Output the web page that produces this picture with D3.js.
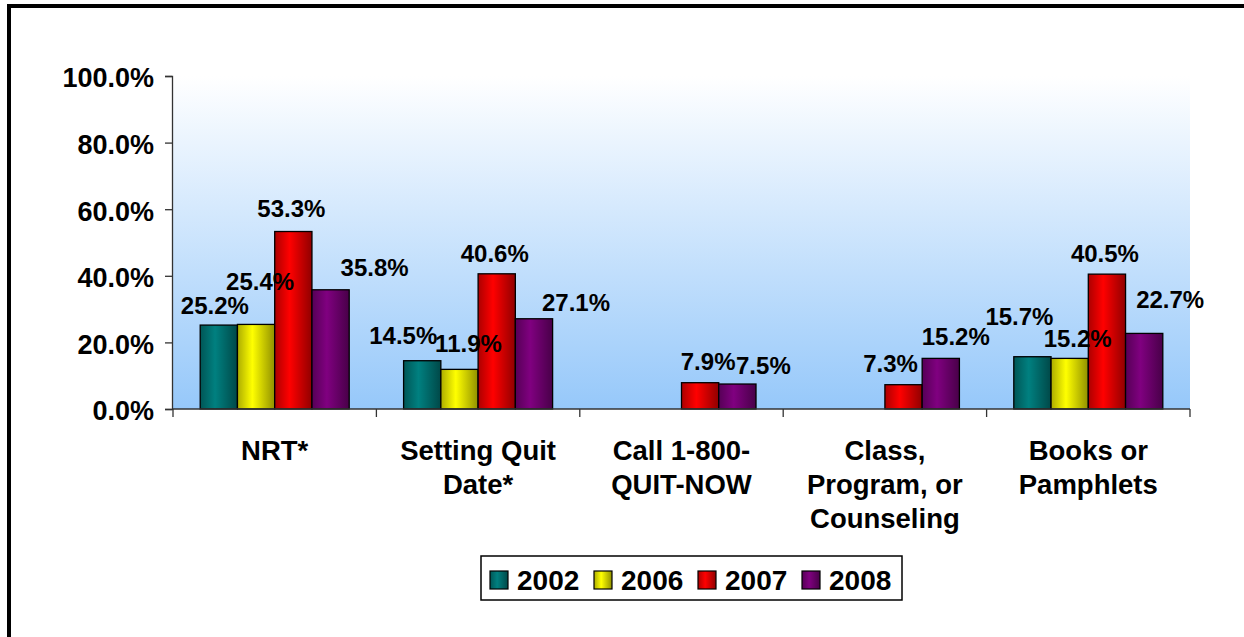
<!DOCTYPE html>
<html>
<head>
<meta charset="utf-8">
<script src="https://cdn.jsdelivr.net/npm/d3@7"></script>
<style>
  body { margin: 0; background: #fff; }
  text { font-family: "Liberation Sans", Arial, sans-serif; font-weight: bold; fill: #000; }
</style>
</head>
<body>
<div class="chart"></div>
<script>
// data
const categories = ['NRT*', 'Setting Quit Date*', 'Call 1-800- QUIT-NOW', 'Class, Program, or Counseling', 'Books or Pamphlets'];
const categoryLines = [['NRT*'], ['Setting Quit', 'Date*'], ['Call 1-800-', 'QUIT-NOW'], ['Class,', 'Program, or', 'Counseling'], ['Books or', 'Pamphlets']];
const years = ['2002', '2006', '2007', '2008'];
const v2002 = [25.2, 14.5, null, null, 15.7];
const v2006 = [25.4, 11.9, null, null, 15.2];
const v2007 = [53.3, 40.6, 7.9, 7.3, 40.5];
const v2008 = [35.8, 27.1, 7.5, 15.2, 22.7];
const yTicks = [0, 20, 40, 60, 80, 100];

// label nudges (dx, dy from top centre of bar), as placed in the original
const labelNudge = [
    [[-4, -20], [-19, -25], null, null, [-13, -40]],
    [[4, -43], [9, -26], null, null, [8, -20]],
    [[-2, -23], [-2, -20], [8, -21], [-13, -21], [-2, -21]],
    [[44, -22], [42, -16], [26, -19], [15, -22], [26, -34]]
];

const colors = ['#008080', '#FFFF00', '#FF0000', '#800080'];
const series = [v2002, v2006, v2007, v2008];

const W = 1244, H = 637;
const plot = {left: 172, right: 1190, top: 76, bottom: 409};

const svg = d3.select('.chart').append('svg')
    .attr('width', W)
    .attr('height', H);

const defs = svg.append('defs');

const bg = defs.append('linearGradient')
    .attr('id', 'bg')
    .attr('x1', 0).attr('y1', 0).attr('x2', 0).attr('y2', 1);
bg.append('stop').attr('offset', '0%').attr('stop-color', '#ffffff');
bg.append('stop').attr('offset', '100%').attr('stop-color', '#96c8fa');

colors.forEach((c, i) => {
    const g = defs.append('linearGradient')
        .attr('id', 'bar' + i)
        .attr('x1', 0).attr('y1', 0).attr('x2', 1).attr('y2', 0);
    g.append('stop').attr('offset', '0%').attr('stop-color', d3.color(c).darker(1.1));
    g.append('stop').attr('offset', '40%').attr('stop-color', c);
    g.append('stop').attr('offset', '100%').attr('stop-color', d3.color(c).darker(1.6));
});

// outer frame
svg.append('rect')
    .attr('x', 9).attr('y', 6)
    .attr('width', W + 20).attr('height', H + 20)
    .attr('fill', 'none')
    .attr('stroke', '#000')
    .attr('stroke-width', 4);

const x0 = d3.scaleBand()
    .domain(categories)
    .range([plot.left + 1, plot.right])
    .paddingInner(0)
    .paddingOuter(0);
const x1 = d3.scaleBand()
    .domain(years)
    .range([0, x0.bandwidth()])
    .paddingInner(0)
    .paddingOuter(0.73);
const y = d3.scaleLinear()
    .domain([0, 100])
    .range([plot.bottom, plot.top]);

svg.append('rect')
    .attr('x', plot.left).attr('y', plot.top)
    .attr('width', plot.right - plot.left)
    .attr('height', plot.bottom - plot.top)
    .attr('fill', 'url(#bg)');

// bars
const groups = svg.selectAll('.group')
    .data(categories)
    .enter()
    .append('g')
    .attr('class', 'group')
    .attr('transform', d => `translate(${x0(d)},0)`);

groups.selectAll('rect')
    .data((d, ci) => years.map((yr, si) => ({yr, si, ci, v: series[si][ci]})).filter(e => e.v != null))
    .enter()
    .append('rect')
    .attr('x', d => x1(d.yr))
    .attr('y', d => y(d.v))
    .attr('width', x1.bandwidth())
    .attr('height', d => y(0) - y(d.v))
    .attr('fill', d => `url(#bar${d.si})`)
    .attr('stroke', '#000')
    .attr('stroke-width', 1.3);

groups.selectAll('.lbl')
    .data((d, ci) => years.map((yr, si) => ({yr, si, ci, v: series[si][ci]})).filter(e => e.v != null))
    .enter()
    .append('text')
    .attr('class', 'lbl')
    .attr('x', d => x1(d.yr) + x1.bandwidth() / 2 + labelNudge[d.si][d.ci][0])
    .attr('y', d => y(d.v) + labelNudge[d.si][d.ci][1])
    .attr('dy', '0.36em')
    .attr('text-anchor', 'middle')
    .attr('font-size', 24)
    .text(d => d.v.toFixed(1) + '%');

// y axis
const yAxis = d3.axisLeft(y)
    .tickValues(yTicks)
    .tickSize(7)
    .tickPadding(11)
    .tickFormat(d => d.toFixed(1) + '%');

const ya = svg.append('g')
    .attr('class', 'axis y-axis')
    .attr('transform', `translate(${plot.left},0)`)
    .call(yAxis);
ya.select('.domain').attr('stroke', '#333').attr('stroke-width', 1.3);
ya.selectAll('.tick line').attr('stroke', '#333').attr('stroke-width', 1.3);
ya.selectAll('.tick text')
    .attr('font-size', 27)
    .attr('font-family', '"Liberation Sans", Arial, sans-serif')
    .attr('font-weight', 'bold')
    .attr('fill', '#000')
    .attr('dy', '0.40em');

// x axis
const xa = svg.append('g').attr('class', 'axis x-axis');
xa.append('line')
    .attr('x1', plot.left).attr('x2', plot.right)
    .attr('y1', y(0)).attr('y2', y(0))
    .attr('stroke', '#333').attr('stroke-width', 1.3);
xa.selectAll('.xt')
    .data(categories.concat(['end']))
    .enter()
    .append('line')
    .attr('x1', d => d === 'end' ? plot.right : x0(d))
    .attr('x2', d => d === 'end' ? plot.right : x0(d))
    .attr('y1', y(0)).attr('y2', y(0) + 8)
    .attr('stroke', '#333').attr('stroke-width', 1.3);

xa.selectAll('.cat')
    .data(categories)
    .enter()
    .append('text')
    .attr('class', 'cat')
    .attr('text-anchor', 'middle')
    .attr('font-size', 27.5)
    .attr('x', d => x0(d) + x0.bandwidth() / 2)
    .attr('y', 460)
    .each(function(d, i) {
        d3.select(this).selectAll('tspan')
            .data(categoryLines[i])
            .enter()
            .append('tspan')
            .attr('x', x0(d) + x0.bandwidth() / 2)
            .attr('dy', (t, j) => j === 0 ? 0 : 34)
            .text(t => t);
    });

// legend
const legend = svg.append('g')
    .attr('transform', 'translate(481,556)');
legend.append('rect')
    .attr('width', 421).attr('height', 44)
    .attr('fill', '#fff')
    .attr('stroke', '#000')
    .attr('stroke-width', 1.5);

const item = legend.selectAll('.item')
    .data(years)
    .enter()
    .append('g')
    .attr('class', 'item')
    .attr('transform', (d, i) => `translate(${9 + i * 104},15)`);
item.append('rect')
    .attr('width', 18).attr('height', 18)
    .attr('fill', (d, i) => `url(#bar${i})`)
    .attr('stroke', '#000')
    .attr('stroke-width', 1.2);
item.append('text')
    .attr('x', 27)
    .attr('y', 9)
    .attr('dy', '0.36em')
    .attr('font-size', 28)
    .text(d => d);
</script>
</body>
</html>
